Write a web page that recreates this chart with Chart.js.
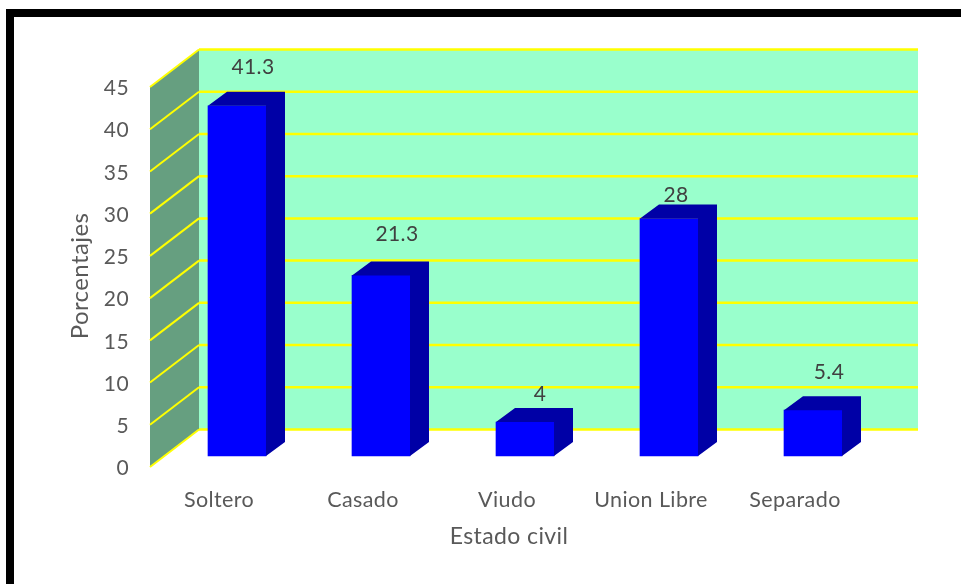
<!DOCTYPE html>
<html>
<head>
<meta charset="utf-8">
<title>Estado civil</title>
<script src="https://cdn.jsdelivr.net/npm/chart.js@4"></script>
<style>
  html, body { margin: 0; padding: 0; background: #fff; overflow: hidden; }
  #frame { position: absolute; left: 6px; top: 9px; width: 960px; height: 600px;
           border-left: 8px solid #000; border-top: 8px solid #000; }
  #wrap { position: absolute; left: 0; top: 0; width: 961px; height: 584px; }
</style>
</head>
<body>
<div id="frame"></div>
<div id="wrap"><canvas id="chart" width="961" height="584"></canvas></div>
<script>
const categories = ['Soltero', 'Casado', 'Viudo', 'Union Libre', 'Separado'];
const porcentajes = [41.3, 21.3, 4, 28, 5.4];
const yTicks = [0, 5, 10, 15, 20, 25, 30, 35, 40, 45];

const FONT = 'Lato';
const WALL_DX = 49, WALL_DY = 37.5;   // front of the side wall -> back wall
const BAR_DX = 19, BAR_DY = 14;       // depth of the bars
const BACK_RIGHT = 918;

// data label shift from the bar's front top centre, the picture has them uneven
const labelShift = [[16, -39], [16, -41], [15, -28], [7, -23], [16, -38]];

/** Back wall, side wall and yellow grid behind the bars */
const walls = {
  id: 'walls',
  beforeDraw(chart) {
    // text in the picture runs a little wider than Lato
    chart.ctx.letterSpacing = '0.4px';
  },
  beforeDatasetsDraw(chart) {
    const { ctx } = chart;
    const y = chart.scales.y;
    const left = 150;
    const back = left + WALL_DX;
    const y0 = y.getPixelForValue(0), yTop = y.getPixelForValue(45);
    ctx.save();
    ctx.fillStyle = '#99FFCC';
    ctx.fillRect(back, yTop - WALL_DY, BACK_RIGHT - back, y0 - yTop);
    ctx.fillStyle = '#669F80';
    ctx.beginPath();
    ctx.moveTo(left, y0);
    ctx.lineTo(back, y0 - WALL_DY);
    ctx.lineTo(back, yTop - WALL_DY);
    ctx.lineTo(left, yTop);
    ctx.closePath();
    ctx.fill();
    ctx.strokeStyle = '#FFFF00';
    yTicks.forEach(v => {
      const py = y.getPixelForValue(v);
      ctx.lineWidth = 2;
      ctx.beginPath();
      ctx.moveTo(left, py);
      ctx.lineTo(back, py - WALL_DY);
      ctx.stroke();
      ctx.lineWidth = 2.5;
      ctx.beginPath();
      ctx.moveTo(back, py - WALL_DY);
      ctx.lineTo(BACK_RIGHT, py - WALL_DY);
      ctx.stroke();
    });
    ctx.restore();
  }
};

/** Top and side faces of each bar, value labels, axis titles */
const bars3d = {
  id: 'bars3d',
  afterDatasetsDraw(chart) {
    const { ctx } = chart;
    ctx.save();
    chart.getDatasetMeta(0).data.forEach((bar, i) => {
      const l = bar.x - bar.width / 2, r = bar.x + bar.width / 2;
      ctx.fillStyle = '#0000A6';
      ctx.beginPath();
      ctx.moveTo(l, bar.y);
      ctx.lineTo(l + BAR_DX, bar.y - BAR_DY);
      ctx.lineTo(r + BAR_DX, bar.y - BAR_DY);
      ctx.lineTo(r + BAR_DX, bar.base - BAR_DY);
      ctx.lineTo(r, bar.base);
      ctx.lineTo(r, bar.y);
      ctx.closePath();
      ctx.fill();
      ctx.fillStyle = '#404040';
      ctx.font = `21px ${FONT}`;
      ctx.textAlign = 'center';
      ctx.textBaseline = 'middle';
      ctx.fillText(String(porcentajes[i]), bar.x + labelShift[i][0], bar.y + labelShift[i][1]);
    });
    ctx.fillStyle = '#595959';
    ctx.font = `23px ${FONT}`;
    ctx.fillText('Estado civil', 509, 537);
    ctx.translate(80, 276);
    ctx.rotate(-Math.PI / 2);
    ctx.font = `24px ${FONT}`;
    ctx.fillText('Porcentajes', 0, 0);
    ctx.restore();
  }
};

new Chart(document.getElementById('chart'), {
  type: 'bar',
  data: {
    labels: categories,
    datasets: [{
      label: 'Porcentajes',
      data: porcentajes,
      yAxisID: 'yBars',
      backgroundColor: '#0000FF',
      barThickness: 58
    }]
  },
  options: {
    responsive: false,
    animation: false,
    layout: { padding: { top: 49, right: 76, left: 60, bottom: 0 } },
    plugins: { legend: { display: false }, tooltip: { enabled: false } },
    scales: {
      x: {
        grid: { display: false },
        border: { display: false },
        afterFit: s => { s.height = 117; },
        ticks: { labelOffset: -18, padding: 12, maxRotation: 0, color: '#595959', font: { family: FONT, size: 21.5 } }
      },
      y: {
        min: 0,
        max: 49.5,
        grid: { display: false },
        border: { display: false },
        afterBuildTicks: s => { s.ticks = yTicks.map(v => ({ value: v })); },
        afterFit: s => { s.width = 105; },
        ticks: { padding: 28, labelOffset: 1.5, color: '#595959', font: { family: FONT, size: 21 } }
      },
      // bars stand mid-depth, so their zero sits above the front axis zero
      yBars: { display: false, min: -1.3, max: 48 }
    }
  },
  plugins: [walls, bars3d]
});
</script>
</body>
</html>
